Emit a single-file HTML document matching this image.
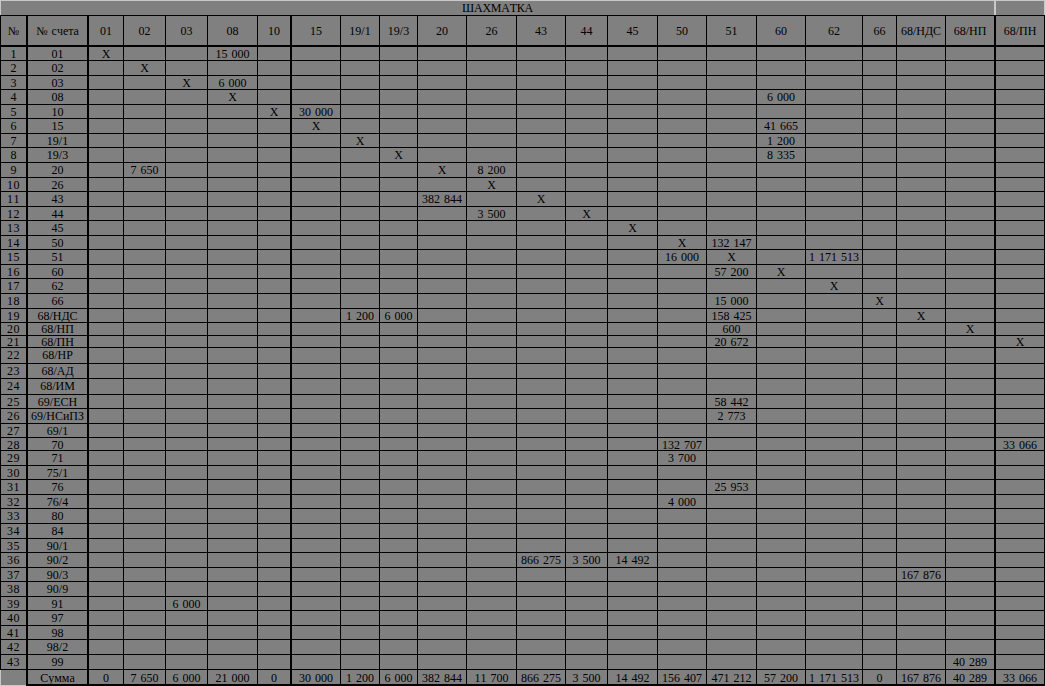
<!DOCTYPE html>
<html><head><meta charset="utf-8"><style>
html,body{margin:0;padding:0;}
body{width:1045px;height:686px;background:#808080;position:relative;overflow:hidden;font-family:"Liberation Serif", serif;font-size:12px;color:#000;}
i{position:absolute;display:block;}
b{position:absolute;display:block;font-weight:normal;height:14px;line-height:14px;text-align:center;white-space:nowrap;word-spacing:1px;font-kerning:none;}
</style></head><body>
<i style="left:0px;top:0px;width:1045px;height:1px;background:#c8c8c8"></i>
<i style="left:0px;top:0px;width:1px;height:15px;background:#c8c8c8"></i>
<i style="left:994px;top:0px;width:2px;height:15px;background:#c8c8c8"></i>
<i style="left:1044px;top:0px;width:1px;height:15px;background:#c8c8c8"></i>
<b style="left:1px;top:1px;width:993px;letter-spacing:-0.25px">ШАХМАТКА</b>
<i style="left:0px;top:15px;width:1045px;height:1px;background:#000"></i>
<i style="left:0px;top:45px;width:1045px;height:2px;background:#000"></i>
<i style="left:0px;top:60px;width:1045px;height:1px;background:#000"></i>
<i style="left:0px;top:75px;width:1045px;height:1px;background:#000"></i>
<i style="left:0px;top:89px;width:1045px;height:1px;background:#000"></i>
<i style="left:0px;top:104px;width:1045px;height:1px;background:#000"></i>
<i style="left:0px;top:118px;width:1045px;height:1px;background:#000"></i>
<i style="left:0px;top:133px;width:1045px;height:1px;background:#000"></i>
<i style="left:0px;top:147px;width:1045px;height:1px;background:#000"></i>
<i style="left:0px;top:162px;width:1045px;height:1px;background:#000"></i>
<i style="left:0px;top:177px;width:1045px;height:1px;background:#000"></i>
<i style="left:0px;top:191px;width:1045px;height:1px;background:#000"></i>
<i style="left:0px;top:206px;width:1045px;height:1px;background:#000"></i>
<i style="left:0px;top:220px;width:1045px;height:1px;background:#000"></i>
<i style="left:0px;top:235px;width:1045px;height:1px;background:#000"></i>
<i style="left:0px;top:249px;width:1045px;height:1px;background:#000"></i>
<i style="left:0px;top:264px;width:1045px;height:1px;background:#000"></i>
<i style="left:0px;top:278px;width:1045px;height:1px;background:#000"></i>
<i style="left:0px;top:293px;width:1045px;height:1px;background:#000"></i>
<i style="left:0px;top:308px;width:1045px;height:1px;background:#000"></i>
<i style="left:0px;top:322px;width:1045px;height:1px;background:#000"></i>
<i style="left:0px;top:335px;width:1045px;height:1px;background:#000"></i>
<i style="left:0px;top:347px;width:1045px;height:1px;background:#000"></i>
<i style="left:0px;top:363px;width:1045px;height:1px;background:#000"></i>
<i style="left:0px;top:378px;width:1045px;height:1px;background:#000"></i>
<i style="left:0px;top:394px;width:1045px;height:1px;background:#000"></i>
<i style="left:0px;top:408px;width:1045px;height:1px;background:#000"></i>
<i style="left:0px;top:423px;width:1045px;height:1px;background:#000"></i>
<i style="left:0px;top:437px;width:1045px;height:1px;background:#000"></i>
<i style="left:0px;top:450px;width:1045px;height:1px;background:#000"></i>
<i style="left:0px;top:465px;width:1045px;height:1px;background:#000"></i>
<i style="left:0px;top:479px;width:1045px;height:1px;background:#000"></i>
<i style="left:0px;top:494px;width:1045px;height:1px;background:#000"></i>
<i style="left:0px;top:508px;width:1045px;height:1px;background:#000"></i>
<i style="left:0px;top:523px;width:1045px;height:1px;background:#000"></i>
<i style="left:0px;top:538px;width:1045px;height:1px;background:#000"></i>
<i style="left:0px;top:552px;width:1045px;height:1px;background:#000"></i>
<i style="left:0px;top:567px;width:1045px;height:1px;background:#000"></i>
<i style="left:0px;top:581px;width:1045px;height:1px;background:#000"></i>
<i style="left:0px;top:596px;width:1045px;height:1px;background:#000"></i>
<i style="left:0px;top:610px;width:1045px;height:1px;background:#000"></i>
<i style="left:0px;top:625px;width:1045px;height:1px;background:#000"></i>
<i style="left:0px;top:639px;width:1045px;height:1px;background:#000"></i>
<i style="left:0px;top:654px;width:1045px;height:1px;background:#000"></i>
<i style="left:0px;top:669px;width:1045px;height:1px;background:#000"></i>
<i style="left:26px;top:684px;width:1019px;height:2px;background:#000"></i>
<i style="left:0px;top:15px;width:1px;height:655px;background:#000"></i>
<i style="left:26px;top:15px;width:2px;height:671px;background:#000"></i>
<i style="left:87px;top:15px;width:2px;height:671px;background:#000"></i>
<i style="left:123px;top:15px;width:1px;height:671px;background:#000"></i>
<i style="left:165px;top:15px;width:1px;height:671px;background:#000"></i>
<i style="left:207px;top:15px;width:1px;height:671px;background:#000"></i>
<i style="left:257px;top:15px;width:1px;height:671px;background:#000"></i>
<i style="left:290px;top:15px;width:2px;height:671px;background:#000"></i>
<i style="left:340px;top:15px;width:1px;height:671px;background:#000"></i>
<i style="left:379px;top:15px;width:1px;height:671px;background:#000"></i>
<i style="left:417px;top:15px;width:1px;height:671px;background:#000"></i>
<i style="left:466px;top:15px;width:1px;height:671px;background:#000"></i>
<i style="left:516px;top:15px;width:1px;height:671px;background:#000"></i>
<i style="left:565px;top:15px;width:1px;height:671px;background:#000"></i>
<i style="left:607px;top:15px;width:1px;height:671px;background:#000"></i>
<i style="left:657px;top:15px;width:1px;height:671px;background:#000"></i>
<i style="left:706px;top:15px;width:1px;height:671px;background:#000"></i>
<i style="left:756px;top:15px;width:1px;height:671px;background:#000"></i>
<i style="left:805px;top:15px;width:1px;height:671px;background:#000"></i>
<i style="left:862px;top:15px;width:1px;height:671px;background:#000"></i>
<i style="left:896px;top:15px;width:1px;height:671px;background:#000"></i>
<i style="left:945px;top:15px;width:1px;height:671px;background:#000"></i>
<i style="left:994px;top:15px;width:2px;height:671px;background:#000"></i>
<i style="left:1044px;top:15px;width:1px;height:671px;background:#000"></i>
<i style="left:0px;top:670px;width:1px;height:16px;background:#c8c8c8"></i>
<i style="left:0px;top:685px;width:26px;height:1px;background:#c8c8c8"></i>
<b style="left:1.0px;top:24px;width:25px">№</b>
<b style="left:28.0px;top:24px;width:59px">№ счета</b>
<b style="left:89.0px;top:24px;width:34px">01</b>
<b style="left:124.0px;top:24px;width:41px">02</b>
<b style="left:166.0px;top:24px;width:41px">03</b>
<b style="left:208.0px;top:24px;width:49px">08</b>
<b style="left:258.0px;top:24px;width:32px">10</b>
<b style="left:292.0px;top:24px;width:48px">15</b>
<b style="left:341.0px;top:24px;width:38px">19/1</b>
<b style="left:380.0px;top:24px;width:37px">19/3</b>
<b style="left:418.0px;top:24px;width:48px">20</b>
<b style="left:467.0px;top:24px;width:49px">26</b>
<b style="left:517.0px;top:24px;width:48px">43</b>
<b style="left:566.0px;top:24px;width:41px">44</b>
<b style="left:608.0px;top:24px;width:49px">45</b>
<b style="left:658.0px;top:24px;width:48px">50</b>
<b style="left:707.0px;top:24px;width:49px">51</b>
<b style="left:757.0px;top:24px;width:48px">60</b>
<b style="left:806.0px;top:24px;width:56px">62</b>
<b style="left:863.0px;top:24px;width:33px">66</b>
<b style="left:897.0px;top:24px;width:48px">68/НДС</b>
<b style="left:946.0px;top:24px;width:48px">68/НП</b>
<b style="left:996.0px;top:24px;width:48px">68/ПН</b>
<b style="left:1.0px;top:47px;width:25px">1</b>
<b style="left:28.0px;top:47px;width:59px">01</b>
<b style="left:89.0px;top:47px;width:34px">X</b>
<b style="left:208.0px;top:47px;width:49px">15 000</b>
<b style="left:1.0px;top:61px;width:25px">2</b>
<b style="left:28.0px;top:61px;width:59px">02</b>
<b style="left:124.0px;top:61px;width:41px">X</b>
<b style="left:1.0px;top:76px;width:25px">3</b>
<b style="left:28.0px;top:76px;width:59px">03</b>
<b style="left:166.0px;top:76px;width:41px">X</b>
<b style="left:208.0px;top:76px;width:49px">6 000</b>
<b style="left:1.0px;top:90px;width:25px">4</b>
<b style="left:28.0px;top:90px;width:59px">08</b>
<b style="left:208.0px;top:90px;width:49px">X</b>
<b style="left:757.0px;top:90px;width:48px">6 000</b>
<b style="left:1.0px;top:105px;width:25px">5</b>
<b style="left:28.0px;top:105px;width:59px">10</b>
<b style="left:258.0px;top:105px;width:32px">X</b>
<b style="left:292.0px;top:105px;width:48px">30 000</b>
<b style="left:1.0px;top:119px;width:25px">6</b>
<b style="left:28.0px;top:119px;width:59px">15</b>
<b style="left:292.0px;top:119px;width:48px">X</b>
<b style="left:757.0px;top:119px;width:48px">41 665</b>
<b style="left:1.0px;top:134px;width:25px">7</b>
<b style="left:28.0px;top:134px;width:59px">19/1</b>
<b style="left:341.0px;top:134px;width:38px">X</b>
<b style="left:757.0px;top:134px;width:48px">1 200</b>
<b style="left:1.0px;top:148px;width:25px">8</b>
<b style="left:28.0px;top:148px;width:59px">19/3</b>
<b style="left:380.0px;top:148px;width:37px">X</b>
<b style="left:757.0px;top:148px;width:48px">8 335</b>
<b style="left:1.0px;top:163px;width:25px">9</b>
<b style="left:28.0px;top:163px;width:59px">20</b>
<b style="left:124.0px;top:163px;width:41px">7 650</b>
<b style="left:418.0px;top:163px;width:48px">X</b>
<b style="left:467.0px;top:163px;width:49px">8 200</b>
<b style="left:1px;top:178px;width:25px;letter-spacing:0.5px">10</b>
<b style="left:28.0px;top:178px;width:59px">26</b>
<b style="left:467.0px;top:178px;width:49px">X</b>
<b style="left:1px;top:192px;width:25px;letter-spacing:0.5px">11</b>
<b style="left:28.0px;top:192px;width:59px">43</b>
<b style="left:418.0px;top:192px;width:48px">382 844</b>
<b style="left:517.0px;top:192px;width:48px">X</b>
<b style="left:1px;top:207px;width:25px;letter-spacing:0.5px">12</b>
<b style="left:28.0px;top:207px;width:59px">44</b>
<b style="left:467.0px;top:207px;width:49px">3 500</b>
<b style="left:566.0px;top:207px;width:41px">X</b>
<b style="left:1px;top:221px;width:25px;letter-spacing:0.5px">13</b>
<b style="left:28.0px;top:221px;width:59px">45</b>
<b style="left:608.0px;top:221px;width:49px">X</b>
<b style="left:1px;top:236px;width:25px;letter-spacing:0.5px">14</b>
<b style="left:28.0px;top:236px;width:59px">50</b>
<b style="left:658.0px;top:236px;width:48px">X</b>
<b style="left:707.0px;top:236px;width:49px">132 147</b>
<b style="left:1px;top:250px;width:25px;letter-spacing:0.5px">15</b>
<b style="left:28.0px;top:250px;width:59px">51</b>
<b style="left:658.0px;top:250px;width:48px">16 000</b>
<b style="left:707.0px;top:250px;width:49px">X</b>
<b style="left:806.0px;top:250px;width:56px">1 171 513</b>
<b style="left:1px;top:265px;width:25px;letter-spacing:0.5px">16</b>
<b style="left:28.0px;top:265px;width:59px">60</b>
<b style="left:707.0px;top:265px;width:49px">57 200</b>
<b style="left:757.0px;top:265px;width:48px">X</b>
<b style="left:1px;top:279px;width:25px;letter-spacing:0.5px">17</b>
<b style="left:28.0px;top:279px;width:59px">62</b>
<b style="left:806.0px;top:279px;width:56px">X</b>
<b style="left:1px;top:294px;width:25px;letter-spacing:0.5px">18</b>
<b style="left:28.0px;top:294px;width:59px">66</b>
<b style="left:707.0px;top:294px;width:49px">15 000</b>
<b style="left:863.0px;top:294px;width:33px">X</b>
<b style="left:1px;top:309px;width:25px;letter-spacing:0.5px">19</b>
<b style="left:28.0px;top:309px;width:59px">68/НДС</b>
<b style="left:341.0px;top:309px;width:38px">1 200</b>
<b style="left:380.0px;top:309px;width:37px">6 000</b>
<b style="left:707.0px;top:309px;width:49px">158 425</b>
<b style="left:897.0px;top:309px;width:48px">X</b>
<b style="left:1px;top:322px;width:25px;letter-spacing:0.5px">20</b>
<b style="left:28.0px;top:322px;width:59px">68/НП</b>
<b style="left:707.0px;top:322px;width:49px">600</b>
<b style="left:946.0px;top:322px;width:48px">X</b>
<b style="left:1px;top:335px;width:25px;letter-spacing:0.5px">21</b>
<b style="left:28.0px;top:335px;width:59px">68/ПН</b>
<b style="left:707.0px;top:335px;width:49px">20 672</b>
<b style="left:996.0px;top:335px;width:48px">X</b>
<b style="left:1px;top:348px;width:25px;letter-spacing:0.5px">22</b>
<b style="left:28.0px;top:348px;width:59px">68/НР</b>
<b style="left:1px;top:364px;width:25px;letter-spacing:0.5px">23</b>
<b style="left:28.0px;top:364px;width:59px">68/АД</b>
<b style="left:1px;top:379px;width:25px;letter-spacing:0.5px">24</b>
<b style="left:28.0px;top:379px;width:59px">68/ИМ</b>
<b style="left:1px;top:395px;width:25px;letter-spacing:0.5px">25</b>
<b style="left:28.0px;top:395px;width:59px">69/ЕСН</b>
<b style="left:707.0px;top:395px;width:49px">58 442</b>
<b style="left:1px;top:409px;width:25px;letter-spacing:0.5px">26</b>
<b style="left:28.0px;top:409px;width:59px">69/НСиПЗ</b>
<b style="left:707.0px;top:409px;width:49px">2 773</b>
<b style="left:1px;top:424px;width:25px;letter-spacing:0.5px">27</b>
<b style="left:28.0px;top:424px;width:59px">69/1</b>
<b style="left:1px;top:438px;width:25px;letter-spacing:0.5px">28</b>
<b style="left:28.0px;top:438px;width:59px">70</b>
<b style="left:658.0px;top:438px;width:48px">132 707</b>
<b style="left:996.0px;top:438px;width:48px">33 066</b>
<b style="left:1px;top:451px;width:25px;letter-spacing:0.5px">29</b>
<b style="left:28.0px;top:451px;width:59px">71</b>
<b style="left:658.0px;top:451px;width:48px">3 700</b>
<b style="left:1px;top:466px;width:25px;letter-spacing:0.5px">30</b>
<b style="left:28.0px;top:466px;width:59px">75/1</b>
<b style="left:1px;top:480px;width:25px;letter-spacing:0.5px">31</b>
<b style="left:28.0px;top:480px;width:59px">76</b>
<b style="left:707.0px;top:480px;width:49px">25 953</b>
<b style="left:1px;top:495px;width:25px;letter-spacing:0.5px">32</b>
<b style="left:28.0px;top:495px;width:59px">76/4</b>
<b style="left:658.0px;top:495px;width:48px">4 000</b>
<b style="left:1px;top:509px;width:25px;letter-spacing:0.5px">33</b>
<b style="left:28.0px;top:509px;width:59px">80</b>
<b style="left:1px;top:524px;width:25px;letter-spacing:0.5px">34</b>
<b style="left:28.0px;top:524px;width:59px">84</b>
<b style="left:1px;top:539px;width:25px;letter-spacing:0.5px">35</b>
<b style="left:28.0px;top:539px;width:59px">90/1</b>
<b style="left:1px;top:553px;width:25px;letter-spacing:0.5px">36</b>
<b style="left:28.0px;top:553px;width:59px">90/2</b>
<b style="left:517.0px;top:553px;width:48px">866 275</b>
<b style="left:566.0px;top:553px;width:41px">3 500</b>
<b style="left:608.0px;top:553px;width:49px">14 492</b>
<b style="left:1px;top:568px;width:25px;letter-spacing:0.5px">37</b>
<b style="left:28.0px;top:568px;width:59px">90/3</b>
<b style="left:897.0px;top:568px;width:48px">167 876</b>
<b style="left:1px;top:582px;width:25px;letter-spacing:0.5px">38</b>
<b style="left:28.0px;top:582px;width:59px">90/9</b>
<b style="left:1px;top:597px;width:25px;letter-spacing:0.5px">39</b>
<b style="left:28.0px;top:597px;width:59px">91</b>
<b style="left:166.0px;top:597px;width:41px">6 000</b>
<b style="left:1px;top:611px;width:25px;letter-spacing:0.5px">40</b>
<b style="left:28.0px;top:611px;width:59px">97</b>
<b style="left:1px;top:626px;width:25px;letter-spacing:0.5px">41</b>
<b style="left:28.0px;top:626px;width:59px">98</b>
<b style="left:1px;top:640px;width:25px;letter-spacing:0.5px">42</b>
<b style="left:28.0px;top:640px;width:59px">98/2</b>
<b style="left:1px;top:655px;width:25px;letter-spacing:0.5px">43</b>
<b style="left:28.0px;top:655px;width:59px">99</b>
<b style="left:946.0px;top:655px;width:48px">40 289</b>
<b style="left:28.0px;top:671px;width:59px">Сумма</b>
<b style="left:89.0px;top:671px;width:34px">0</b>
<b style="left:124.0px;top:671px;width:41px">7 650</b>
<b style="left:166.0px;top:671px;width:41px">6 000</b>
<b style="left:208.0px;top:671px;width:49px">21 000</b>
<b style="left:258.0px;top:671px;width:32px">0</b>
<b style="left:292.0px;top:671px;width:48px">30 000</b>
<b style="left:341.0px;top:671px;width:38px">1 200</b>
<b style="left:380.0px;top:671px;width:37px">6 000</b>
<b style="left:418.0px;top:671px;width:48px">382 844</b>
<b style="left:467.0px;top:671px;width:49px">11 700</b>
<b style="left:517.0px;top:671px;width:48px">866 275</b>
<b style="left:566.0px;top:671px;width:41px">3 500</b>
<b style="left:608.0px;top:671px;width:49px">14 492</b>
<b style="left:658.0px;top:671px;width:48px">156 407</b>
<b style="left:707.0px;top:671px;width:49px">471 212</b>
<b style="left:757.0px;top:671px;width:48px">57 200</b>
<b style="left:806.0px;top:671px;width:56px">1 171 513</b>
<b style="left:863.0px;top:671px;width:33px">0</b>
<b style="left:897.0px;top:671px;width:48px">167 876</b>
<b style="left:946.0px;top:671px;width:48px">40 289</b>
<b style="left:996.0px;top:671px;width:48px">33 066</b>
</body></html>
